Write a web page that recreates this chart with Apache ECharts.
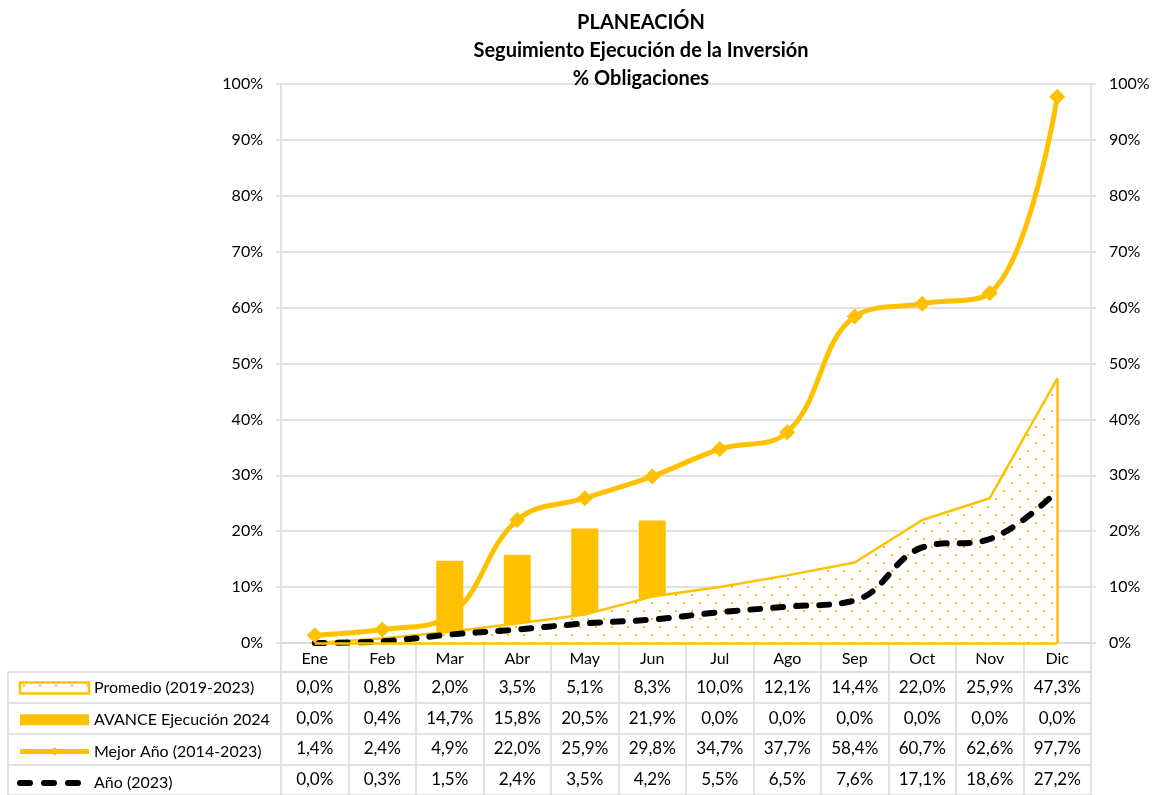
<!DOCTYPE html>
<html>
<head>
<meta charset="utf-8">
<script src="https://cdn.jsdelivr.net/npm/echarts@6/dist/echarts.min.js"></script>
<style>
  html, body { margin: 0; padding: 0; background: #fff; }
  #chart { width: 1155px; height: 795px; }
</style>
</head>
<body>
<div id="chart"></div>
<script>
const meses = ['Ene', 'Feb', 'Mar', 'Abr', 'May', 'Jun', 'Jul', 'Ago', 'Sep', 'Oct', 'Nov', 'Dic'];
const promedio = [0.0, 0.8, 2.0, 3.5, 5.1, 8.3, 10.0, 12.1, 14.4, 22.0, 25.9, 47.3];
const avance = [0.0, 0.4, 14.7, 15.8, 20.5, 21.9, 0.0, 0.0, 0.0, 0.0, 0.0, 0.0];
const mejorAnio = [1.4, 2.4, 4.9, 22.0, 25.9, 29.8, 34.7, 37.7, 58.4, 60.7, 62.6, 97.7];
const anio2023 = [0.0, 0.3, 1.5, 2.4, 3.5, 4.2, 5.5, 6.5, 7.6, 17.1, 18.6, 27.2];
const nombres = ['Promedio (2019-2023)', 'AVANCE Ejecución 2024', 'Mejor Año (2014-2023)', 'Año (2023)'];
const filas = [promedio, avance, mejorAnio, anio2023];

const AMARILLO = '#FFC000';
const GRIS = '#d9d9d9';
const FUENTE = 'Lato';

// relleno punteado del area
const patron = document.createElement('canvas');
patron.width = 16;
patron.height = 16;
const pctx = patron.getContext('2d');
pctx.fillStyle = '#fff';
pctx.fillRect(0, 0, 16, 16);
pctx.fillStyle = AMARILLO;
pctx.fillRect(3, 2, 2, 2);
pctx.fillRect(11, 10, 2, 2);

const fmt = (v) => v.toFixed(1).replace('.', ',') + '%';

const tabla = [];
filas.forEach((fila, r) => {
  fila.forEach((v, i) => tabla.push([i, r, v]));
});

const chart = echarts.init(document.getElementById('chart'));

chart.setOption({
  animation: false,
  textStyle: { fontFamily: FUENTE },
  title: {
    text: 'PLANEACIÓN\nSeguimiento Ejecución de la Inversión\n% Obligaciones',
    left: 636,
    textAlign: 'center',
    top: 4,
    textStyle: { fontFamily: FUENTE, fontWeight: 'bold', fontSize: 20, lineHeight: 28, color: '#000' }
  },
  legend: {
    orient: 'vertical',
    left: 17,
    top: 678,
    padding: 0,
    itemGap: 11.7,
    itemWidth: 69,
    itemHeight: 11,
    textStyle: { fontFamily: FUENTE, fontSize: 16, lineHeight: 20, color: '#000' },
    selectedMode: false,
    data: [
      { name: nombres[0], icon: 'rect', itemStyle: { color: { image: patron, repeat: 'repeat' }, borderColor: AMARILLO, borderWidth: 2.5 } },
      { name: nombres[1], icon: 'rect' },
      { name: nombres[2], lineStyle: { width: 5, color: AMARILLO } },
      { name: nombres[3], itemStyle: { opacity: 0 }, lineStyle: { width: 6, color: '#000', type: [10, 14], cap: 'round' } }
    ]
  },
  grid: [
    { left: 281, right: 64, top: 84, height: 559 },
    { left: 281, right: 64, top: 672, height: 127 },
    { left: 8, width: 273, top: 672, height: 127 }
  ],
  xAxis: [
    {
      type: 'category',
      data: meses,
      gridIndex: 0,
      axisLine: { lineStyle: { color: GRIS, width: 1.5 } },
      axisTick: { show: true, length: 29, interval: 0, lineStyle: { color: GRIS, width: 1.5 } },
      axisLabel: { color: '#000', fontSize: 16, margin: 8, interval: 0 }
    },
    {
      type: 'category',
      data: meses,
      gridIndex: 1,
      position: 'top',
      axisLine: { show: true, lineStyle: { color: GRIS, width: 1.5 } },
      axisTick: { show: false },
      axisLabel: { show: false },
      splitLine: { show: true, interval: 0, lineStyle: { color: GRIS, width: 1.5 } }
    },
    { type: 'value', gridIndex: 2, show: false }
  ],
  yAxis: [
    {
      type: 'value',
      gridIndex: 0,
      min: 0,
      max: 100,
      interval: 10,
      axisLine: { show: true, lineStyle: { color: GRIS, width: 1.5 } },
      axisTick: { show: true, length: 5, lineStyle: { color: GRIS, width: 1.5 } },
      axisLabel: { color: '#000', fontSize: 16, margin: 18, formatter: '{value}%' },
      splitLine: { lineStyle: { color: GRIS, width: 1.5 } }
    },
    {
      type: 'value',
      gridIndex: 0,
      position: 'right',
      min: 0,
      max: 100,
      interval: 10,
      axisLine: { show: true, lineStyle: { color: GRIS, width: 1.5 } },
      axisTick: { show: true, length: 5, lineStyle: { color: GRIS, width: 1.5 } },
      axisLabel: { color: '#000', fontSize: 16, margin: 18, formatter: '{value}%' },
      splitLine: { show: false }
    },
    {
      type: 'category',
      data: nombres,
      gridIndex: 1,
      inverse: true,
      axisLine: { show: false },
      axisTick: { show: false },
      axisLabel: { show: false },
      splitLine: { show: true, interval: 0, lineStyle: { color: GRIS, width: 1.5 } }
    },
    {
      type: 'category',
      data: nombres,
      gridIndex: 2,
      inverse: true,
      axisLine: { show: true, lineStyle: { color: GRIS, width: 1.5 } },
      axisTick: { show: false },
      axisLabel: { show: false },
      splitLine: { show: true, interval: 0, lineStyle: { color: GRIS, width: 1.5 } }
    }
  ],
  series: [
    {
      name: nombres[0],
      type: 'line',
      data: promedio,
      symbol: 'none',
      lineStyle: { color: AMARILLO, width: 2.5 },
      itemStyle: { color: AMARILLO },
      areaStyle: { color: { image: patron, repeat: 'repeat' }, opacity: 1 },
      markLine: {
        silent: true,
        symbol: 'none',
        label: { show: false },
        lineStyle: { color: AMARILLO, width: 2.5, type: 'solid' },
        data: [
          [{ coord: [meses.length - 1, 0] }, { coord: [meses.length - 1, promedio[promedio.length - 1]] }],
          [{ coord: [0, 0] }, { coord: [meses.length - 1, 0] }]
        ]
      }
    },
    {
      name: nombres[1],
      type: 'bar',
      data: avance,
      barWidth: 27,
      itemStyle: { color: AMARILLO }
    },
    {
      name: nombres[2],
      type: 'line',
      data: mejorAnio,
      smooth: 0.4,
      symbol: 'diamond',
      symbolSize: 16,
      lineStyle: { color: AMARILLO, width: 5 },
      itemStyle: { color: AMARILLO }
    },
    {
      name: nombres[3],
      type: 'line',
      data: anio2023,
      smooth: 0.4,
      symbol: 'none',
      lineStyle: { color: '#000', width: 6, type: [10, 13], cap: 'round' },
      itemStyle: { color: '#000' }
    },
    {
      name: 'tabla',
      type: 'custom',
      xAxisIndex: 1,
      yAxisIndex: 2,
      data: tabla,
      silent: true,
      renderItem: (params, api) => {
        const p = api.coord([api.value(0), api.value(1)]);
        return {
          type: 'text',
          style: {
            text: fmt(api.value(2)),
            x: p[0],
            y: p[1],
            align: 'center',
            verticalAlign: 'middle',
            font: '17px ' + FUENTE,
            fill: '#000'
          }
        };
      }
    }
  ]
});
</script>
</body>
</html>
